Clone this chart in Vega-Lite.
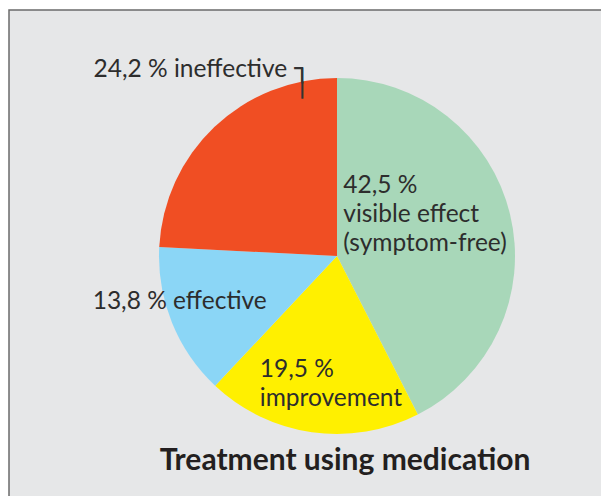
{
  "$schema": "https://vega.github.io/schema/vega-lite/v6.json",
  "width": 592,
  "height": 486,
  "autosize": {"type": "none"},
  "padding": {"left": 9, "top": 10, "right": 0, "bottom": 0},
  "background": "#ffffff",
  "view": {"fill": "#e6e7e8", "stroke": "#6b6b6b", "strokeWidth": 1.5, "strokeDash": [592, 1078, 486]},
  "config": {
    "text": {"font": "Lato"}
  },
  "title": {
    "text": "Treatment using medication",
    "orient": "bottom",
    "anchor": "middle",
    "offset": 0,
    "dx": 40,
    "dy": -26,
    "baseline": "alphabetic",
    "font": "Lato",
    "fontSize": 30,
    "fontWeight": "bold",
    "color": "#231f20"
  },
  "data": {
    "values": [
      {"idx": 1, "key": "visible effect", "value": 42.5, "label": "42,5 %\nvisible effect\n(symptom-free)"},
      {"idx": 2, "key": "improvement", "value": 19.5, "label": "19,5 %\nimprovement"},
      {"idx": 3, "key": "effective", "value": 13.8, "label": "13,8 % effective"},
      {"idx": 4, "key": "ineffective", "value": 24.2, "label": "24,2 % ineffective"}
    ]
  },
  "encoding": {
    "theta": {"field": "value", "type": "quantitative", "stack": true},
    "order": {"field": "idx", "type": "quantitative"}
  },
  "layer": [
    {
      "mark": {"type": "arc", "outerRadius": 178, "x": {"expr": "width / 2 + 32"}, "y": {"expr": "height / 2 + 3"}},
      "encoding": {
        "color": {
          "field": "key",
          "type": "nominal",
          "scale": {
            "domain": ["visible effect", "improvement", "effective", "ineffective"],
            "range": ["#a8d7b9", "#fff000", "#8bd6f6", "#f04e23"]
          },
          "legend": null
        }
      }
    },
    {
      "mark": {"type": "text", "x": {"expr": "width / 2 + 32"}, "y": {"expr": "height / 2 + 3"}, "radius": 100, "dx": -91, "dy": -40, "align": "left", "baseline": "alphabetic", "lineBreak": "\n", "lineHeight": 29, "fontSize": 24.5, "color": "#2d2d2d"},
      "encoding": {"text": {"condition": {"test": "datum.idx === 1", "field": "label"}, "value": ""}}
    },
    {
      "mark": {"type": "text", "x": {"expr": "width / 2 + 32"}, "y": {"expr": "height / 2 + 3"}, "radius": 122, "dx": -60, "dy": 0, "align": "left", "baseline": "alphabetic", "lineBreak": "\n", "lineHeight": 29, "fontSize": 24.5, "color": "#2d2d2d"},
      "encoding": {"text": {"condition": {"test": "datum.idx === 2", "field": "label"}, "value": ""}}
    },
    {
      "mark": {"type": "text", "x": {"expr": "width / 2 + 32"}, "y": {"expr": "height / 2 + 3"}, "radius": 175, "dx": 5, "dy": -12, "align": "center", "baseline": "alphabetic", "fontSize": 24.5, "color": "#2d2d2d"},
      "encoding": {"text": {"condition": {"test": "datum.idx === 3", "field": "label"}, "value": ""}}
    },
    {
      "mark": {"type": "text", "x": {"expr": "width / 2 + 32"}, "y": {"expr": "height / 2 + 3"}, "radius": 200, "dx": 88, "dy": -34, "align": "right", "baseline": "alphabetic", "fontSize": 24.5, "color": "#2d2d2d"},
      "encoding": {"text": {"condition": {"test": "datum.idx === 4", "field": "label"}, "value": ""}}
    },
    {
      "mark": {"type": "text", "x": {"expr": "width / 2 + 32"}, "y": {"expr": "height / 2 + 3"}, "radius": 200, "dx": 95, "dy": -34, "align": "left", "baseline": "alphabetic", "lineBreak": "\n", "lineHeight": 15.2, "font": "DejaVu Sans", "fontSize": 26, "color": "#333333"},
      "encoding": {"text": {"condition": {"test": "datum.idx === 4", "value": "┐\n│"}, "value": ""}}
    }
  ]
}
